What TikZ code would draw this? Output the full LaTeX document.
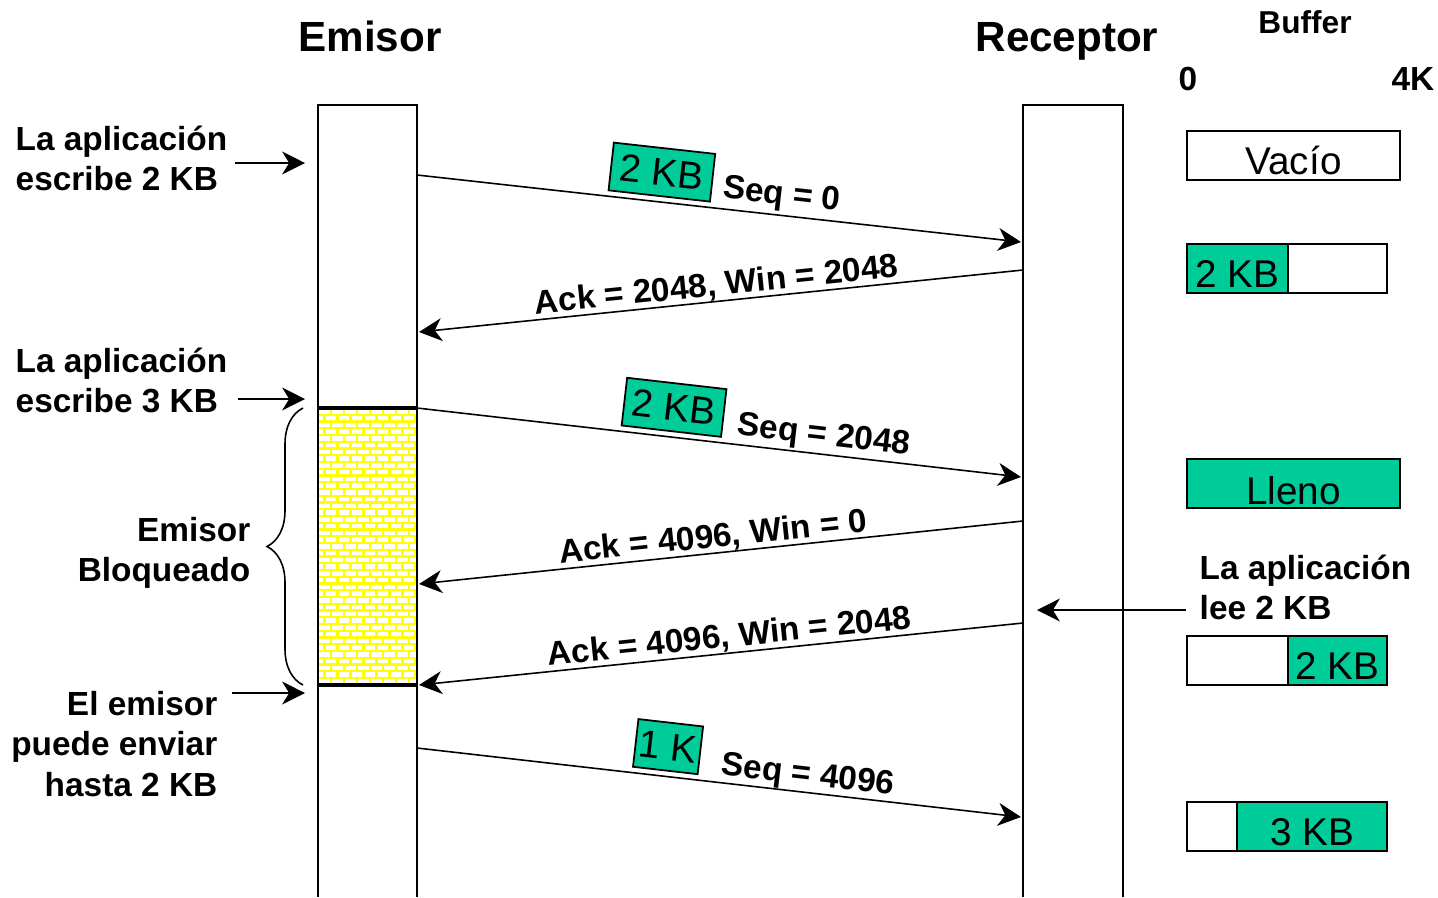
\documentclass[tikz,border=0pt]{standalone}
\usepackage{fontspec}
\setmainfont{Liberation Sans}
\usetikzlibrary{arrows.meta,positioning,decorations.pathreplacing}

\definecolor{pkt}{RGB}{0,204,153}   % green for data
\definecolor{brick}{RGB}{255,255,0} % yellow for blocked time

\tikzset{
  msg/.style={-{Stealth[length=6.5pt,width=6.5pt,inset=2pt]}, line width=0.45pt},
  lbl/.style={font=\fontsize{9.5}{11.4}\selectfont\bfseries, inner sep=0pt},
  title/.style={font=\fontsize{12}{14}\selectfont\bfseries, anchor=base},
  pktbox/.style={draw, fill=pkt, line width=0.5pt, font=\fontsize{11}{13}\selectfont,
    minimum height=0.48cm, inner sep=1pt},
  buf/.style={draw, line width=0.5pt, minimum height=0.49cm, inner sep=0pt, outer sep=0pt,
    text height=11pt, text depth=0pt, font=\fontsize{11}{13}\selectfont},
  bar/.style={line width=0.6pt}
}

\begin{document}
\begin{tikzpicture}
    \useasboundingbox (0,0) rectangle (14.38,-8.97);

    % Titles
    \node[title] (emisor) at (3.70,-0.51) {Emisor};
    \node[title] (receptor) at (10.67,-0.51) {Receptor};
    \node[font=\fontsize{9}{11}\selectfont\bfseries, anchor=base] (buffer) at (13.05,-0.335) {Buffer};
    \node[lbl, anchor=base] (cero) at (11.88,-0.90) {0};
    \node[lbl, anchor=base] (cuatro) at (14.13,-0.90) {4K};

    % Blocked interval (brick pattern)
    \begin{scope}
        \clip (3.18,-4.08) rectangle (4.17,-6.85);
        \foreach \i in {0,...,42} {
            \pgfmathsetmacro{\yy}{-4.08-\i*0.0675}
            \pgfmathsetmacro{\off}{mod(\i,2)*0.065}
            \draw[brick, line width=0.6pt] (3.18,\yy) -- (4.17,\yy);
            \foreach \j in {0,...,8}
                \draw[brick, line width=0.6pt] ({3.18+\off+\j*0.13},\yy) -- ++(0,-0.0675);
        }
    \end{scope}
    \draw[line width=1.1pt] (3.18,-4.08) -- (4.17,-4.08);
    \draw[line width=1.1pt] (3.18,-6.85) -- (4.17,-6.85);

    % Time lines
    \draw[bar] (3.18,-8.97) -- (3.18,-1.05) -- (4.17,-1.05) -- (4.17,-8.97);
    \draw[bar] (10.23,-8.97) -- (10.23,-1.05) -- (11.23,-1.05) -- (11.23,-8.97);

    % Brace
    \draw[decorate, decoration={brace, amplitude=0.36cm}, line width=0.45pt]
        (3.03,-6.85) -- (3.03,-4.08);

    % Sender side labels
    \node[lbl, align=left, anchor=west] (escribe2) at (0.15,-1.58) {La aplicación\\escribe 2 KB};
    \node[lbl, align=left, anchor=west] (escribe3) at (0.15,-3.80) {La aplicación\\escribe 3 KB};
    \node[lbl, align=right, anchor=east] (bloqueado) at (2.51,-5.53) {Emisor\\Bloqueado};
    \node[lbl, align=right, anchor=east] (puede) at (2.18,-7.44) {El emisor\\puede enviar\\hasta 2 KB};

    \coordinate (w1) at (3.05,-1.63);
    \coordinate (w2) at (3.05,-3.99);
    \coordinate (w3) at (3.05,-6.93);
    \draw[msg] (escribe2.east |- w1) ++(0.07,0) -- (w1);
    \draw[msg] (escribe3.east |- w2) ++(0.10,0) -- (w2);
    \draw[msg] (puede.east |- w3) ++(0.14,0) -- (w3);

    % Segments and acks
    \coordinate (e1) at (4.17,-1.75);  \coordinate (r1) at (10.21,-2.42);
    \coordinate (r2) at (10.23,-2.70); \coordinate (e2) at (4.19,-3.32);
    \coordinate (e3) at (4.17,-4.08);  \coordinate (r3) at (10.21,-4.77);
    \coordinate (r4) at (10.23,-5.21); \coordinate (e4) at (4.19,-5.84);
    \coordinate (r5) at (10.23,-6.23); \coordinate (e5) at (4.19,-6.85);
    \coordinate (e6) at (4.17,-7.48);  \coordinate (r6) at (10.21,-8.17);

    \draw[msg] (e1) -- (r1)
        node[pos=0.40, sloped, above=0.05cm, pktbox, minimum width=1.02cm] (pkt1) {2 KB}
        node[pos=0.60, sloped, above=1pt, lbl] (seq1) {Seq = 0};
    \draw[msg] (r2) -- (e2)
        node[pos=0.505, sloped, above, lbl] (ack1) {Ack = 2048, Win = 2048};
    \draw[msg] (e3) -- (r3)
        node[pos=0.42, sloped, above=0.05cm, pktbox, minimum width=1.00cm] (pkt2) {2 KB}
        node[pos=0.67, sloped, above=0.5pt, lbl] (seq2) {Seq = 2048};
    \draw[msg] (r4) -- (e4)
        node[pos=0.51, sloped, above, lbl] (ack2) {Ack = 4096, Win = 0};
    \draw[msg] (r5) -- (e5)
        node[pos=0.483, sloped, above, lbl] (ack3) {Ack = 4096, Win = 2048};
    \draw[msg] (e6) -- (r6)
        node[pos=0.41, sloped, above=0.05cm, pktbox, minimum width=0.62cm] (pkt3) {1 K}
        node[pos=0.644, sloped, above=0pt, lbl] (seq3) {Seq = 4096};

    % Receiver side
    \node[lbl, align=left, anchor=west] (lee) at (11.99,-5.87) {La aplicación\\lee 2 KB};
    \coordinate (r7) at (10.37,-6.10);
    \draw[msg] (lee.west |- r7) ++(-0.13,0) -- (r7);

    % Buffer states
    \node[buf, minimum width=2.13cm, anchor=north west] (vacio) at (11.87,-1.31) {Vacío};
    \node[buf, fill=pkt, minimum width=1.01cm, anchor=north west] (ocupado1) at (11.87,-2.44) {2 KB};
    \node[buf, minimum width=0.99cm, right=0pt of ocupado1] (libre1) {};
    \node[buf, fill=pkt, minimum width=2.13cm, anchor=north west, text height=12pt] (lleno) at (11.87,-4.59) {Lleno};
    \node[buf, minimum width=1.01cm, anchor=north west] (libre2) at (11.87,-6.36) {};
    \node[buf, fill=pkt, minimum width=0.99cm, right=0pt of libre2] (ocupado2) {2 KB};
    \node[buf, minimum width=0.50cm, anchor=north west] (libre3) at (11.87,-8.02) {};
    \node[buf, fill=pkt, minimum width=1.50cm, right=0pt of libre3] (ocupado3) {3 KB};

\end{tikzpicture}
\end{document}
